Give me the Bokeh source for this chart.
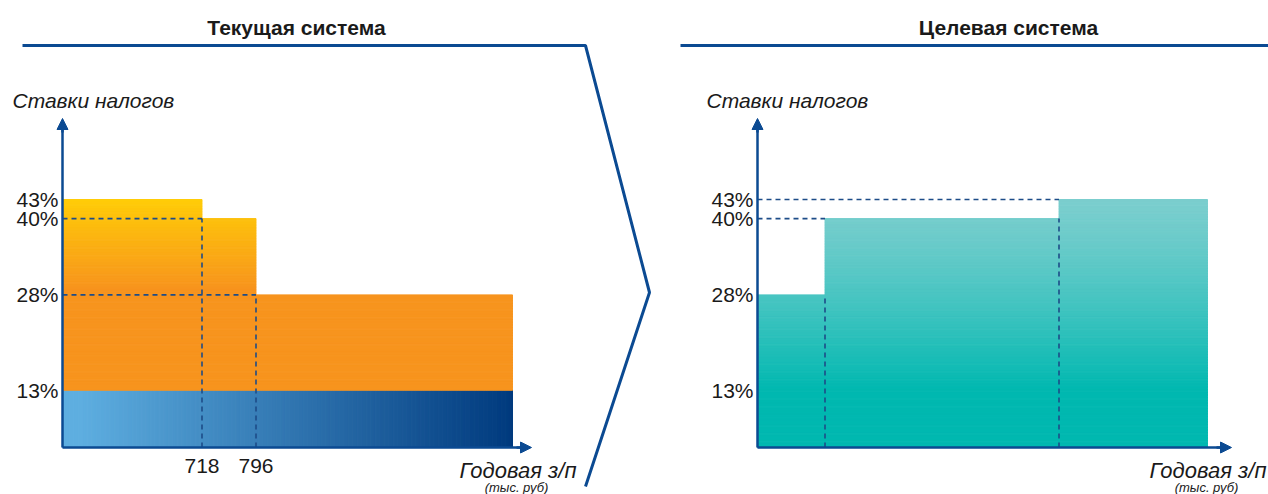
import math
import numpy as np
from bokeh.plotting import figure
from bokeh.models import (Range1d, LinearAxis, FixedTicker, PrintfTickFormatter,
                          Arrow, NormalHead, ColumnDataSource)
from bokeh.core.properties import value
from bokeh.embed import file_html
from bokeh.resources import INLINE

# ---------------- data ----------------
titles = ["Текущая система", "Целевая система"]
y_title = "Ставки налогов"
x_title = "Годовая з/п"
x_unit = "(тыс. руб)"

rate_ticks = [13, 28, 40, 43]          # %, tick labels on both rate axes
base_rate = 13                          # flat part (current system), all incomes
cur_rates = [43, 40, 28]                # current system: total rate per bracket, %
cur_bracket_share = [31, 12, 57]        # schematic bracket widths (% of axis length)
cur_thresholds = ["718", "796"]         # bracket limits, тыс. руб
tgt_rates = [28, 40, 43]                # target system: rate per bracket, %
tgt_bracket_share = [15, 52, 33]        # schematic bracket widths (% of axis length)

# ---------------- layout / style ----------------
W, H = 1268, 494
NAVY = "#0B4A92"
DASH = "#1D4C88"
TXT = "#1a1a1a"
FONT = "Liberation Sans"

AXIS_Y = 447            # canvas y of the x axes (from top)
AXIS_TOP = 118          # canvas y of the y-axis arrow tip
LX, RX = 62, 757        # canvas x of the two y axes
PX = 4.5                # canvas px per schematic share unit
RATE_AT_AXIS = 4.0      # rate shown at the x-axis line (axis is truncated)
K = (AXIS_Y - 199) / (max(rate_ticks) - RATE_AT_AXIS)   # px per rate point


def rate_at(cy):
    return RATE_AT_AXIS + (AXIS_Y - cy) / K


p = figure(width=W, height=H, x_range=Range1d(0, W), y_range=Range1d(H, 0),
           x_axis_type=None, y_axis_type=None, toolbar_location=None,
           output_backend="svg", min_border=0, outline_line_color=None,
           background_fill_color="white", border_fill_color="white")
p.extra_y_ranges = {"rate": Range1d(rate_at(H), rate_at(0))}
p.extra_x_ranges = {"L": Range1d(-LX / PX, (W - LX) / PX),
                    "R": Range1d(-RX / PX, (W - RX) / PX)}


def hx(c):
    c = c.lstrip("#")
    return [int(c[i:i + 2], 16) for i in (0, 2, 4)]


def lerp(c0, c1, t):
    a, b = hx(c0), hx(c1)
    return "#%02x%02x%02x" % tuple(int(round(a[i] + (b[i] - a[i]) * t)) for i in range(3))


def clip01(t):
    return max(0.0, min(1.0, t))


def v_slices(x0, x1, r0, r1, color_of, step=0.25):
    n = max(1, int(math.ceil((r1 - r0) / step)))
    b = np.linspace(r0, r1, n + 1)
    m = (b[:-1] + b[1:]) / 2
    return dict(left=[x0] * n, right=[x1] * n, bottom=list(b[:-1]), top=list(b[1:]),
                color=[color_of(v) for v in m])


def h_slices(x0, x1, r0, r1, color_of, step=0.5):
    n = max(1, int(math.ceil((x1 - x0) / step)))
    b = np.linspace(x0, x1, n + 1)
    m = (b[:-1] + b[1:]) / 2
    return dict(left=list(b[:-1]), right=list(b[1:]), bottom=[r0] * n, top=[r1] * n,
                color=[color_of(v) for v in m])


def merge(parts):
    out = {k: [] for k in parts[0]}
    for d in parts:
        for k in d:
            out[k] += d[k]
    return out


cur_edges = [0] + [int(v) for v in np.cumsum(cur_bracket_share)]
tgt_edges = [0] + [int(v) for v in np.cumsum(tgt_bracket_share)]

# ---- left panel: blue flat band (horizontal gradient) ----
blue = h_slices(0, cur_edges[-1], RATE_AT_AXIS, base_rate,
                lambda s: lerp("#5EAEE0", "#003A7E", clip01((s - 4) / (cur_edges[-1] - 4))))
p.quad(left="left", right="right", bottom="bottom", top="top", fill_color="color",
       line_color="color", line_width=1, source=ColumnDataSource(blue),
       x_range_name="L", y_range_name="rate")

# ---- left panel: progressive part (vertical gradient) ----
top_r = max(cur_rates)
orange_of = lambda r: lerp("#FFCC08", "#F7941E", clip01((top_r - r) / (top_r - 29)))
orange = merge([v_slices(cur_edges[i], cur_edges[i + 1], base_rate, r, orange_of)
                for i, r in enumerate(cur_rates)])
p.quad(left="left", right="right", bottom="bottom", top="top", fill_color="color",
       line_color="color", line_width=1, source=ColumnDataSource(orange),
       x_range_name="L", y_range_name="rate")

# ---- right panel: teal bars ----
tt = max(tgt_rates)
teal_of = lambda r: lerp("#7BCECE", "#00B8B0", clip01((tt - r) / (tt - base_rate)) ** 1.3)
teal = merge([v_slices(tgt_edges[i], tgt_edges[i + 1], RATE_AT_AXIS, r, teal_of)
              for i, r in enumerate(tgt_rates)])
p.quad(left="left", right="right", bottom="bottom", top="top", fill_color="color",
       line_color="color", line_width=1, source=ColumnDataSource(teal),
       x_range_name="R", y_range_name="rate")


# ---- dashed guide lines ----
def guides(edges, rates):
    x0, y0, x1, y1 = [], [], [], []
    for i in range(len(rates) - 1):
        e = edges[i + 1]
        x0 += [e, 0]
        y0 += [RATE_AT_AXIS, rates[i + 1]]
        x1 += [e, e]
        y1 += [min(rates[i], rates[i + 1]), rates[i + 1]]
    return dict(x0=x0, y0=y0, x1=x1, y1=y1)


for name, edges, rates in (("L", cur_edges, cur_rates), ("R", tgt_edges, tgt_rates)):
    p.segment(x0="x0", y0="y0", x1="x1", y1="y1", source=ColumnDataSource(guides(edges, rates)),
              line_color=DASH, line_width=1.6, line_dash="5 4",
              x_range_name=name, y_range_name="rate")


# ---- axes ----
def style_axis(ax, standoff):
    ax.axis_line_color = NAVY
    ax.axis_line_width = 2.5
    ax.major_tick_line_color = None
    ax.minor_tick_line_color = None
    ax.major_tick_out = 0
    ax.major_tick_in = 0
    ax.major_label_standoff = standoff
    ax.major_label_text_font = FONT
    ax.major_label_text_font_size = "21px"
    ax.major_label_text_color = TXT


def y_axis(xloc):
    ax = LinearAxis(y_range_name="rate", fixed_location=xloc,
                    ticker=FixedTicker(ticks=rate_ticks),
                    formatter=PrintfTickFormatter(format="%d%%"),
                    bounds=(RATE_AT_AXIS, rate_at(AXIS_TOP + 10)))
    style_axis(ax, 4)
    p.add_layout(ax, "left")


def x_axis(rname, ticks, labels, tip_px):
    ax = LinearAxis(x_range_name=rname, fixed_location=AXIS_Y,
                    ticker=FixedTicker(ticks=ticks),
                    major_label_overrides=dict(zip(ticks, labels)),
                    bounds=(0, (tip_px - 10) / PX))
    style_axis(ax, 11)
    p.add_layout(ax, "below")


y_axis(LX)
y_axis(RX)
x_axis("L", cur_edges[1:3], cur_thresholds, 469)
x_axis("R", [], [], 474)

for (xs, ys, xe, ye) in ((LX, AXIS_TOP + 14, LX, AXIS_TOP),
                         (RX, AXIS_TOP + 14, RX, AXIS_TOP),
                         (LX + 454, AXIS_Y, LX + 469, AXIS_Y),
                         (RX + 459, AXIS_Y, RX + 474, AXIS_Y)):
    p.add_layout(Arrow(end=NormalHead(size=11, fill_color=NAVY, line_color=NAVY, line_width=1),
                       x_start=xs, y_start=ys, x_end=xe, y_end=ye,
                       line_color=NAVY, line_width=2.5))

# ---- header lines and chevron divider ----
p.line(x=[22, 585, 649, 585], y=[45, 45, 292, 486], line_color=NAVY, line_width=3)
p.line(x=[680, W], y=[45, 45], line_color=NAVY, line_width=3)

# ---- texts ----
p.text(x=[296, 1008], y=[27, 27], text=titles, text_font=value(FONT),
       text_font_style="bold", text_font_size="21px", text_color=TXT,
       text_align="center", text_baseline="middle")
p.text(x=[12, 706], y=[100, 100], text=[y_title, y_title], text_font=value(FONT),
       text_font_style="italic", text_font_size="21px", text_color=TXT,
       text_align="left", text_baseline="middle")
p.text(x=[576, 1266], y=[470, 470], text=[x_title, x_title], text_font=value(FONT),
       text_font_style="italic", text_font_size="22px", text_color=TXT,
       text_align="right", text_baseline="middle")
p.text(x=[516, 1206], y=[487, 487], text=[x_unit, x_unit], text_font=value(FONT),
       text_font_style="italic", text_font_size="13px", text_color=TXT,
       text_align="center", text_baseline="middle")

open("out.html", "w").write(file_html(p, INLINE))
